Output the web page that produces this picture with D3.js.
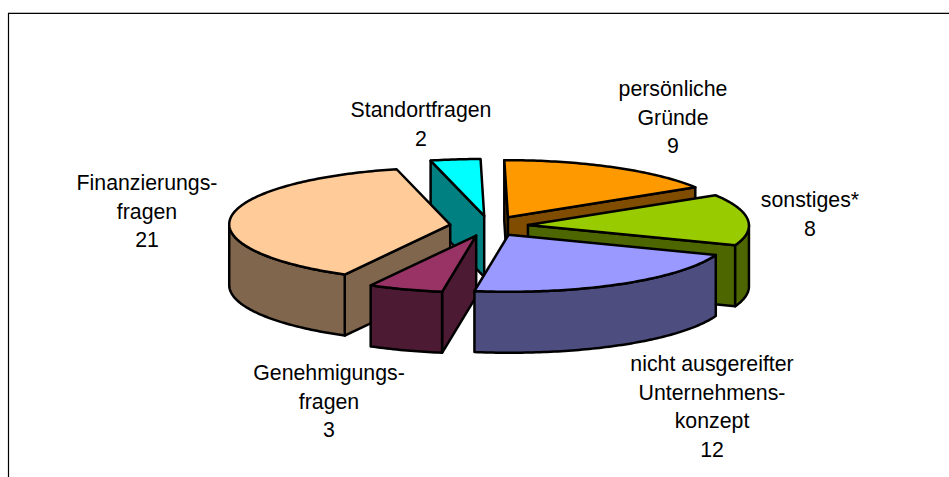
<!DOCTYPE html>
<html><head><meta charset="utf-8">
<script src="https://cdn.jsdelivr.net/npm/d3@7"></script>
<style>html,body{margin:0;padding:0;background:#fff}svg{display:block}
text{font-family:"Liberation Sans",Arial,sans-serif;font-size:21.3px;fill:#000}</style>
</head><body><svg id="c" width="949" height="477"></svg>
<script>
const categories = ["persönliche Gründe","sonstiges*","nicht ausgereifter Unternehmens-konzept","Genehmigungs-fragen","Finanzierungs-fragen","Standortfragen"];
const values = [9,8,12,3,21,2];
const topColors = ["#FF9900","#99CC00","#9999FF","#993366","#FFCC99","#00FFFF"];
const sideColors = ["#804D00","#4D6600","#4D4D80","#4D1A33","#80664D","#008080"];
const labelLines = [["persönliche","Gründe","9"],["sonstiges*","8"],["nicht ausgereifter","Unternehmens-","konzept","12"],["Genehmigungs-","fragen","3"],["Finanzierungs-","fragen","21"],["Standortfragen","2"]];
const labelAnchors = [[673,96],[810,207],[712,371],[329,380],[147,190],[421,117]];

const cx=489, cy=226, rx=221, ry=57, depth=61, explode=0.177, lineH=28.6, skew=0.03;
const svg=d3.select("#c");
svg.append("path").attr("d","M8,12.5H949").attr("fill","none").attr("stroke","#bbb").attr("stroke-width",1);
svg.append("path").attr("d","M8.5,477V13.5H949").attr("fill","none").attr("stroke","#000").attr("stroke-width",1.2);

const a0=-0.5*Math.PI/180;
const arcs=d3.pie().sort(null).value(d=>d).startAngle(a0).endAngle(a0+2*Math.PI)(values);
const sx=d3.scaleLinear().domain([-1,1]).range([-rx,rx]);
const sy=d3.scaleLinear().domain([-1,1]).range([ry,-ry]);

function pt(a,c,dz){const y=sy(Math.cos(a));return [c[0]+sx(Math.sin(a))+skew*y,c[1]+y+(dz||0)];}
const line=d3.line();
function arcPts(a,b,c,dz){const n=Math.max(2,Math.ceil((b-a)*60));return d3.range(n+1).map(i=>pt(a+(b-a)*i/n,c,dz));}

function drawSlice(i){
  const d=arcs[i], a=d.startAngle, b=d.endAngle, mid=(a+b)/2;
  const c=[cx+explode*sx(Math.sin(mid)), cy+explode*sy(Math.cos(mid))];
  const g=svg.append("g").attr("stroke","#000").attr("stroke-width",2.5).attr("stroke-linejoin","round");
  const side=sideColors[i];
  const face=(p)=>{const q=[c,p,[p[0],p[1]+depth],[c[0],c[1]+depth]];g.append("path").attr("d",line(q)+"Z").attr("fill",side);};
  if(Math.sin(a)<0) face(pt(a,c));
  if(Math.sin(b)>0) face(pt(b,c));
  const lo=Math.max(a,Math.PI/2), hi=Math.min(b,3*Math.PI/2);
  if(lo<hi){
    const w=arcPts(lo,hi,c,0).concat(arcPts(lo,hi,c,depth).reverse());
    g.append("path").attr("d",line(w)+"Z").attr("fill",side);
  }
  g.append("path").attr("d",line([c].concat(arcPts(a,b,c,0)))+"Z").attr("fill",topColors[i]);
}
[5,0,1,4,3,2].forEach(drawSlice);

labelLines.forEach((ls,i)=>{
  const t=svg.append("text").attr("text-anchor","middle");
  ls.forEach((s,j)=>t.append("tspan").attr("x",labelAnchors[i][0]).attr("y",labelAnchors[i][1]+j*lineH).text(s));
});
</script></body></html>
